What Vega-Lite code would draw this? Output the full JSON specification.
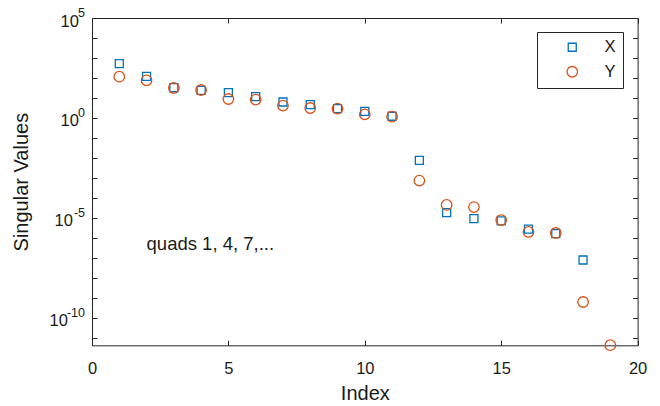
{
  "$schema": "https://vega.github.io/schema/vega-lite/v6.json",
  "width": 545.6,
  "height": 327.3,
  "autosize": "none",
  "padding": {"left": 92, "top": 18, "right": 22.4, "bottom": 60.7},
  "background": "white",
  "config": {
    "view": {"stroke": "#262626", "strokeWidth": 1},
    "font": "Liberation Sans",
    "axis": {
      "domain": false,
      "tickColor": "#262626",
      "tickWidth": 1,
      "tickSize": -5,
      "labelFlush": false,
      "labelColor": "#1a1a1a",
      "labelFont": "Liberation Sans",
      "labelFontSize": 16.5,
      "titleFont": "Liberation Sans",
      "titleFontSize": 20,
      "titleFontWeight": "normal",
      "titleColor": "#1a1a1a",
      "grid": false
    },
    "legend": {
      "orient": "none",
      "legendX": 445,
      "legendY": 14,
      "strokeColor": "#262626",
      "fillColor": "white",
      "padding": 7,
      "labelFont": "Liberation Sans",
      "labelFontSize": 16.5,
      "labelColor": "#1a1a1a",
      "symbolOffset": 20,
      "labelOffset": 24,
      "rowPadding": 7.5,
      "symbolStrokeWidth": 1.3
    }
  },
  "datasets": {
    "sv": [
      {"Index": 1, "Series": "X", "Value": 525},
      {"Index": 2, "Series": "X", "Value": 120},
      {"Index": 3, "Series": "X", "Value": 33.1},
      {"Index": 4, "Series": "X", "Value": 24.3},
      {"Index": 5, "Series": "X", "Value": 18.6},
      {"Index": 6, "Series": "X", "Value": 11.7},
      {"Index": 7, "Series": "X", "Value": 6.3},
      {"Index": 8, "Series": "X", "Value": 4.68},
      {"Index": 9, "Series": "X", "Value": 2.95},
      {"Index": 10, "Series": "X", "Value": 2.16},
      {"Index": 11, "Series": "X", "Value": 1.22},
      {"Index": 12, "Series": "X", "Value": 0.00767},
      {"Index": 13, "Series": "X", "Value": 1.86e-5},
      {"Index": 14, "Series": "X", "Value": 9.3e-6},
      {"Index": 15, "Series": "X", "Value": 7.1e-6},
      {"Index": 16, "Series": "X", "Value": 2.8e-6},
      {"Index": 17, "Series": "X", "Value": 1.66e-6},
      {"Index": 18, "Series": "X", "Value": 7.9e-8},
      {"Index": 1, "Series": "Y", "Value": 117},
      {"Index": 2, "Series": "Y", "Value": 76.7},
      {"Index": 3, "Series": "Y", "Value": 31.6},
      {"Index": 4, "Series": "Y", "Value": 25.1},
      {"Index": 5, "Series": "Y", "Value": 8.9},
      {"Index": 6, "Series": "Y", "Value": 8.3},
      {"Index": 7, "Series": "Y", "Value": 4.17},
      {"Index": 8, "Series": "Y", "Value": 3.16},
      {"Index": 9, "Series": "Y", "Value": 2.95},
      {"Index": 10, "Series": "Y", "Value": 1.53},
      {"Index": 11, "Series": "Y", "Value": 1.17},
      {"Index": 12, "Series": "Y", "Value": 0.00074},
      {"Index": 13, "Series": "Y", "Value": 4.5e-5},
      {"Index": 14, "Series": "Y", "Value": 3.5e-5},
      {"Index": 15, "Series": "Y", "Value": 7.9e-6},
      {"Index": 16, "Series": "Y", "Value": 2.0e-6},
      {"Index": 17, "Series": "Y", "Value": 1.78e-6},
      {"Index": 18, "Series": "Y", "Value": 6.3e-10},
      {"Index": 19, "Series": "Y", "Value": 4.35e-12}
    ],
    "note": [
      {"Index": 2, "Value": 5.2e-7, "label": "quads 1, 4, 7,..."}
    ],
    "exponents": [
      {"Index": 0, "Value": 100000, "exp": "5"},
      {"Index": 0, "Value": 1, "exp": "0"},
      {"Index": 0, "Value": 1e-5, "exp": "-5"},
      {"Index": 0, "Value": 1e-10, "exp": "-10"}
    ]
  },
  "resolve": {"axis": {"x": "independent", "y": "independent"}},
  "layer": [
    {
      "data": {"name": "sv"},
      "mark": {"type": "point", "filled": false, "strokeWidth": 1.3, "opacity": 1},
      "encoding": {
        "x": {
          "field": "Index", "type": "quantitative",
          "scale": {"domain": [0, 20], "nice": false, "zero": false},
          "axis": {"orient": "bottom", "values": [0, 5, 10, 15, 20], "title": "Index", "labelPadding": 20, "titlePadding": 7}
        },
        "y": {
          "field": "Value", "type": "quantitative",
          "scale": {"type": "log", "domain": [4.3e-12, 100000], "nice": false},
          "axis": {
            "orient": "left",
            "title": "Singular Values",
            "values": [1e-11, 1e-10, 1e-9, 1e-8, 1e-7, 1e-6, 1e-5, 1e-4, 1e-3, 1e-2, 1e-1, 1, 10, 100, 1000, 10000, 100000],
            "labelExpr": "round(log(datum.value)/LN10) % 5 == 0 ? '10' : ''",
            "labelPadding": {"expr": "round(log(datum.value)/LN10) == -10 ? 29.6 : round(log(datum.value)/LN10) == -5 ? 24.6 : 18.6"},
            "labelBaseline": "middle",
            "labelOffset": 3,
            "titlePadding": 18
          }
        },
        "color": {
          "field": "Series", "type": "nominal",
          "scale": {"domain": ["X", "Y"], "range": ["#0072BD", "#D95319"]},
          "legend": {"title": null}
        },
        "shape": {
          "field": "Series", "type": "nominal",
          "scale": {"domain": ["X", "Y"], "range": ["square", "circle"]},
          "legend": {"title": null}
        },
        "size": {
          "field": "Series", "type": "nominal",
          "scale": {"domain": ["X", "Y"], "range": [64, 110]},
          "legend": {"title": null}
        }
      }
    },
    {
      "data": {"name": "exponents"},
      "mark": {"type": "text", "align": "right", "baseline": "alphabetic", "dx": -7, "dy": -1.3, "fontSize": 12.5, "color": "#1a1a1a", "font": "Liberation Sans"},
      "encoding": {
        "x": {"field": "Index", "type": "quantitative", "axis": null},
        "y": {"field": "Value", "type": "quantitative", "axis": null},
        "text": {"field": "exp"}
      }
    },
    {
      "data": {"name": "note"},
      "mark": {"type": "text", "align": "left", "baseline": "middle", "fontSize": 18.5, "color": "#1a1a1a", "font": "Liberation Sans"},
      "encoding": {
        "x": {"field": "Index", "type": "quantitative", "axis": null},
        "y": {"field": "Value", "type": "quantitative", "axis": null},
        "text": {"field": "label"}
      }
    },
    {
      "data": {"name": "sv"},
      "mark": {"type": "point", "opacity": 0},
      "encoding": {
        "x": {
          "field": "Index", "type": "quantitative",
          "axis": {"orient": "top", "values": [0, 5, 10, 15, 20], "labels": false, "title": null}
        },
        "y": {
          "field": "Value", "type": "quantitative",
          "axis": {
            "orient": "right",
            "values": [1e-11, 1e-10, 1e-9, 1e-8, 1e-7, 1e-6, 1e-5, 1e-4, 1e-3, 1e-2, 1e-1, 1, 10, 100, 1000, 10000, 100000],
            "labels": false,
            "title": null
          }
        }
      }
    }
  ]
}
